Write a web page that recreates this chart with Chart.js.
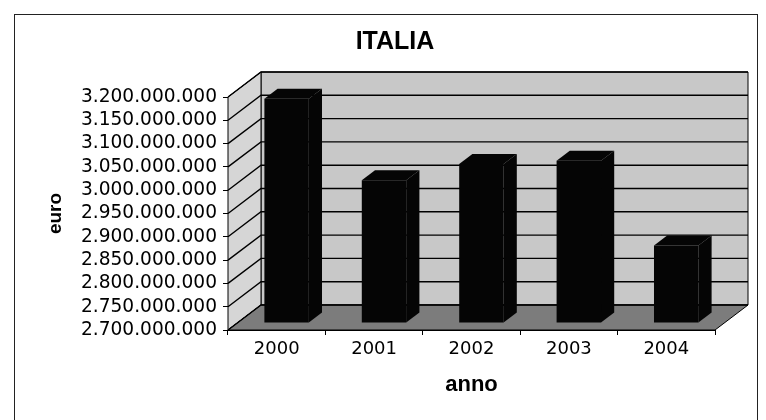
<!DOCTYPE html>
<html>
<head>
<meta charset="utf-8">
<script src="https://cdn.jsdelivr.net/npm/chart.js@4.4.1/dist/chart.umd.min.js"></script>
<style>
  html, body { margin: 0; padding: 0; background: #fff; }
</style>
</head>
<body>
<canvas id="chart" width="766" height="420"></canvas>
<script>
const years = ["2000", "2001", "2002", "2003", "2004"];
const euro = [3180000000, 3005000000, 3040000000, 3047000000, 2865000000];
const Y_MIN = 2700000000;
const Y_MAX = 3200000000;
const Y_STEP = 50000000;

// fake 3D: depth of the box, and where the bars sit inside it
const DX = 33, DY = 25;
const BAR_FRONT = 0.3, BAR_BACK = 0.7;

const fmt = (v) => String(Math.round(v)).replace(/\B(?=(\d{3})+(?!\d))/g, ".");

function poly(ctx, pts, fill, stroke) {
  ctx.beginPath();
  ctx.moveTo(pts[0][0], pts[0][1]);
  pts.slice(1).forEach(([x, y]) => ctx.lineTo(x, y));
  ctx.closePath();
  if (fill) { ctx.fillStyle = fill; ctx.fill(); }
  if (stroke) { ctx.strokeStyle = stroke; ctx.stroke(); }
}

const box3d = {
  id: "box3d",
  beforeDatasetsDraw(chart) {
    const { ctx, chartArea: { left, right, top, bottom } } = chart;
    const y = chart.scales.y;
    ctx.save();
    ctx.lineWidth = 1;
    // back wall, side wall, floor
    poly(ctx, [[left + DX, top - DY], [right + DX, top - DY], [right + DX, bottom - DY], [left + DX, bottom - DY]], "#c8c8c8", "#000");
    poly(ctx, [[left, top], [left + DX, top - DY], [left + DX, bottom - DY], [left, bottom]], "#d6d6d6", "#000");
    poly(ctx, [[left, bottom], [right, bottom], [right + DX, bottom - DY], [left + DX, bottom - DY]], "#7c7c7c", "#000");
    // gridlines: diagonal on the side wall, then across the back wall
    ctx.lineWidth = 1.4;
    ctx.strokeStyle = "#000";
    y.ticks.forEach((t) => {
      const py = y.getPixelForValue(t.value);
      ctx.beginPath();
      ctx.moveTo(left, py);
      ctx.lineTo(left + DX, py - DY);
      ctx.lineTo(right + DX, py - DY);
      ctx.stroke();
    });
    ctx.restore();
    // bars are drawn by Chart.js, pushed back into the box
    ctx.save();
    ctx.translate(DX * BAR_FRONT, -DY * BAR_FRONT);
  },
  afterDatasetsDraw(chart) {
    const { ctx } = chart;
    ctx.restore();
    const fx = DX * BAR_FRONT, fy = DY * BAR_FRONT;
    const bx = DX * (BAR_BACK - BAR_FRONT), by = DY * (BAR_BACK - BAR_FRONT);
    const floor = chart.scales.y.getPixelForValue(Y_MIN);
    ctx.save();
    chart.getDatasetMeta(0).data.forEach((bar) => {
      const { x, y, width } = bar.getProps(["x", "y", "width"], true);
      const x1 = x - width / 2 + fx, x2 = x + width / 2 + fx;
      const yt = y - fy, yb = floor - fy;
      poly(ctx, [[x1, yt], [x2, yt], [x2 + bx, yt - by], [x1 + bx, yt - by]], "#050505");
      poly(ctx, [[x2, yt], [x2 + bx, yt - by], [x2 + bx, yb - by], [x2, yb]], "#050505");
    });
    ctx.restore();
  },
  afterDraw(chart) {
    const { ctx } = chart;
    ctx.save();
    ctx.strokeStyle = "#222";
    ctx.lineWidth = 1;
    ctx.strokeRect(14.5, 14.5, 743, 460);
    ctx.restore();
  }
};

new Chart(document.getElementById("chart"), {
  type: "bar",
  data: {
    labels: years,
    datasets: [{ label: "euro", data: euro, backgroundColor: "#050505", barPercentage: 0.456, categoryPercentage: 1 }]
  },
  options: {
    responsive: false,
    animation: false,
    layout: { padding: { left: 24, right: 0, top: 0, bottom: 20 } },
    plugins: {
      legend: { display: false },
      tooltip: { enabled: false },
      title: {
        display: true,
        text: "ITALIA",
        color: "#000",
        font: { family: "Liberation Sans", size: 25, weight: "bold" },
        padding: { top: 27, bottom: 40 }
      }
    },
    scales: {
      x: {
        offset: true,
        grid: { drawOnChartArea: false, tickLength: 5, color: "#000", offset: true },
        border: { color: "#000" },
        ticks: { color: "#000", font: { family: "DejaVu Sans", size: 18 }, padding: 4 },
        title: {
          display: true, text: "anno", color: "#000",
          font: { family: "Liberation Sans", size: 22, weight: "bold" },
          padding: { top: 0, bottom: 2 }
        },
        afterFit: (s) => { s.height = 70; }
      },
      y: {
        min: Y_MIN,
        max: Y_MAX,
        grid: { drawOnChartArea: false, tickLength: 5, color: "#000" },
        border: { color: "#000" },
        ticks: {
          stepSize: Y_STEP, autoSkip: false, callback: fmt, color: "#000",
          font: { family: "DejaVu Sans", size: 18.6, lineHeight: 1 }, padding: 6
        },
        title: {
          display: true, text: "euro", color: "#000",
          font: { family: "Liberation Sans", size: 19, weight: "bold" },
          padding: { top: 20, bottom: 0 }
        },
        afterFit: (s) => { s.width = 204; }
      },
      yRight: {
        type: "linear",
        position: "right",
        grid: { display: false },
        border: { display: false },
        ticks: { display: false },
        afterFit: (s) => { s.width = 51; }
      }
    }
  },
  plugins: [box3d]
});
</script>
</body>
</html>
